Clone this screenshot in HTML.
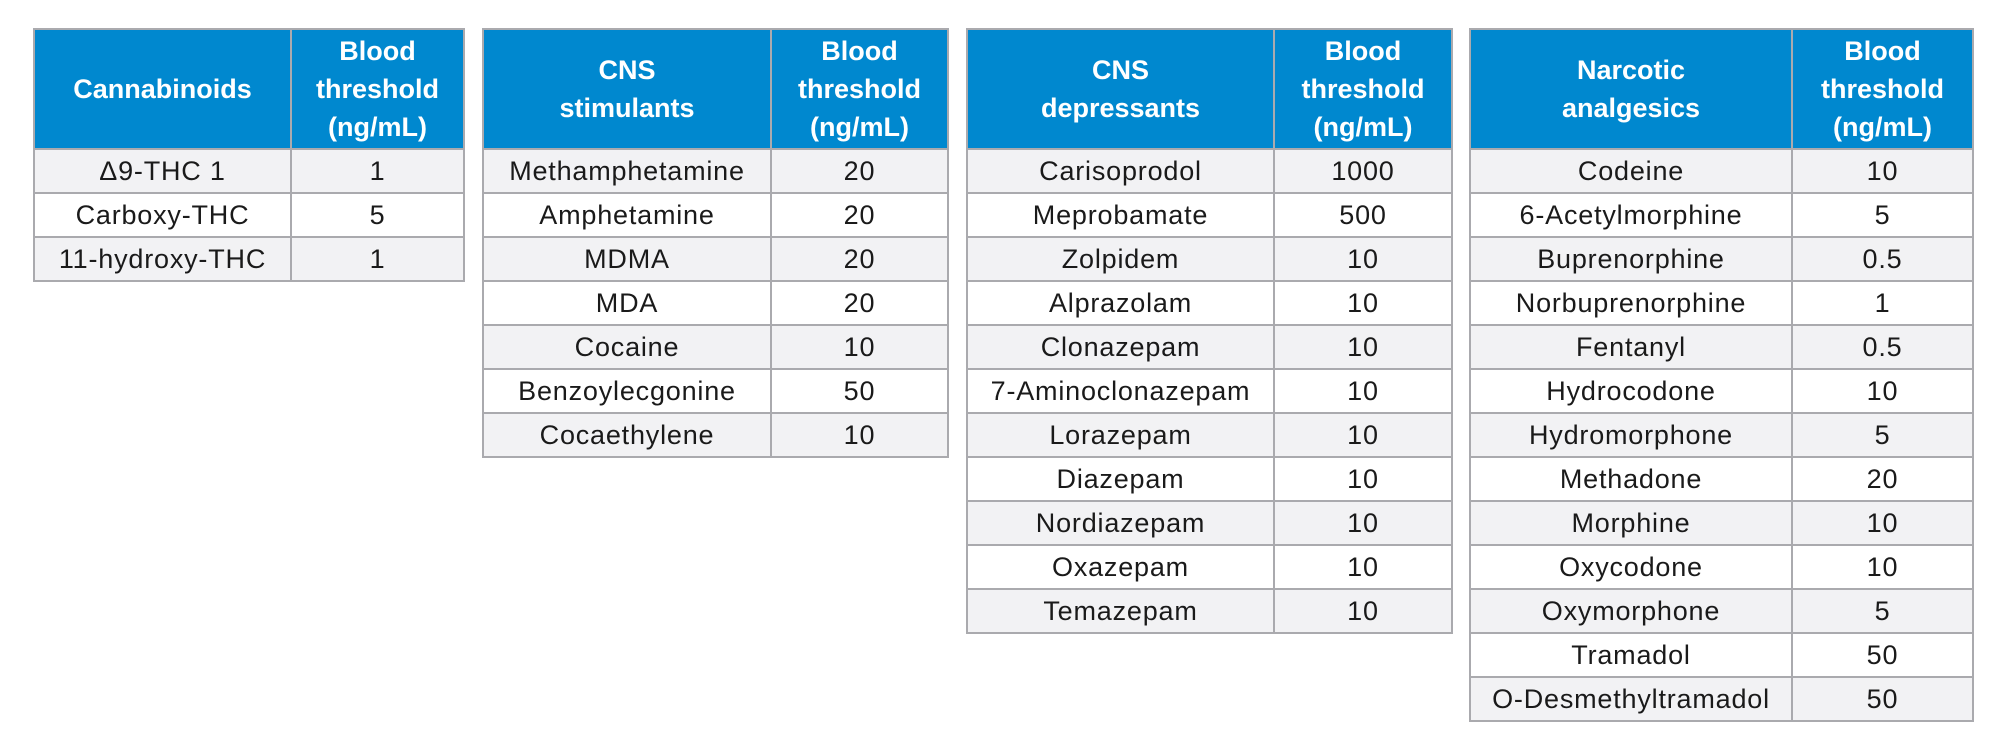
<!DOCTYPE html>
<html><head><meta charset="utf-8"><style>
html,body{margin:0;padding:0;background:#fff;width:2000px;height:755px;overflow:hidden}
table{position:absolute;top:28px;border-collapse:collapse;table-layout:fixed;font-family:"Liberation Sans",sans-serif}
td,th{border:2px solid #aaaaae;text-align:center;padding:0;white-space:nowrap}
th{background:#0088cf;color:#fff;font-weight:bold;font-size:27px;line-height:38px;height:118px}
td{height:42px;font-size:27px;letter-spacing:0.8px;color:#1a1a1a}
tr.g td{background:#f2f2f4}
</style></head><body>
<table style="left:33px;width:430px">
<colgroup><col style="width:257px"><col style="width:173px"></colgroup>
<tr><th>Cannabinoids</th><th>Blood<br>threshold<br>(ng/mL)</th></tr>
<tr class="g"><td>Δ9-THC 1</td><td>1</td></tr>
<tr><td>Carboxy-THC</td><td>5</td></tr>
<tr class="g"><td>11-hydroxy-THC</td><td>1</td></tr>
</table>
<table style="left:482px;width:465px">
<colgroup><col style="width:288px"><col style="width:177px"></colgroup>
<tr><th>CNS<br>stimulants</th><th>Blood<br>threshold<br>(ng/mL)</th></tr>
<tr class="g"><td>Methamphetamine</td><td>20</td></tr>
<tr><td>Amphetamine</td><td>20</td></tr>
<tr class="g"><td>MDMA</td><td>20</td></tr>
<tr><td>MDA</td><td>20</td></tr>
<tr class="g"><td>Cocaine</td><td>10</td></tr>
<tr><td>Benzoylecgonine</td><td>50</td></tr>
<tr class="g"><td>Cocaethylene</td><td>10</td></tr>
</table>
<table style="left:966px;width:485px">
<colgroup><col style="width:307px"><col style="width:178px"></colgroup>
<tr><th>CNS<br>depressants</th><th>Blood<br>threshold<br>(ng/mL)</th></tr>
<tr class="g"><td>Carisoprodol</td><td>1000</td></tr>
<tr><td>Meprobamate</td><td>500</td></tr>
<tr class="g"><td>Zolpidem</td><td>10</td></tr>
<tr><td>Alprazolam</td><td>10</td></tr>
<tr class="g"><td>Clonazepam</td><td>10</td></tr>
<tr><td>7-Aminoclonazepam</td><td>10</td></tr>
<tr class="g"><td>Lorazepam</td><td>10</td></tr>
<tr><td>Diazepam</td><td>10</td></tr>
<tr class="g"><td>Nordiazepam</td><td>10</td></tr>
<tr><td>Oxazepam</td><td>10</td></tr>
<tr class="g"><td>Temazepam</td><td>10</td></tr>
</table>
<table style="left:1469px;width:503px">
<colgroup><col style="width:322px"><col style="width:181px"></colgroup>
<tr><th>Narcotic<br>analgesics</th><th>Blood<br>threshold<br>(ng/mL)</th></tr>
<tr class="g"><td>Codeine</td><td>10</td></tr>
<tr><td>6-Acetylmorphine</td><td>5</td></tr>
<tr class="g"><td>Buprenorphine</td><td>0.5</td></tr>
<tr><td>Norbuprenorphine</td><td>1</td></tr>
<tr class="g"><td>Fentanyl</td><td>0.5</td></tr>
<tr><td>Hydrocodone</td><td>10</td></tr>
<tr class="g"><td>Hydromorphone</td><td>5</td></tr>
<tr><td>Methadone</td><td>20</td></tr>
<tr class="g"><td>Morphine</td><td>10</td></tr>
<tr><td>Oxycodone</td><td>10</td></tr>
<tr class="g"><td>Oxymorphone</td><td>5</td></tr>
<tr><td>Tramadol</td><td>50</td></tr>
<tr class="g"><td>O-Desmethyltramadol</td><td>50</td></tr>
</table>
</body></html>
